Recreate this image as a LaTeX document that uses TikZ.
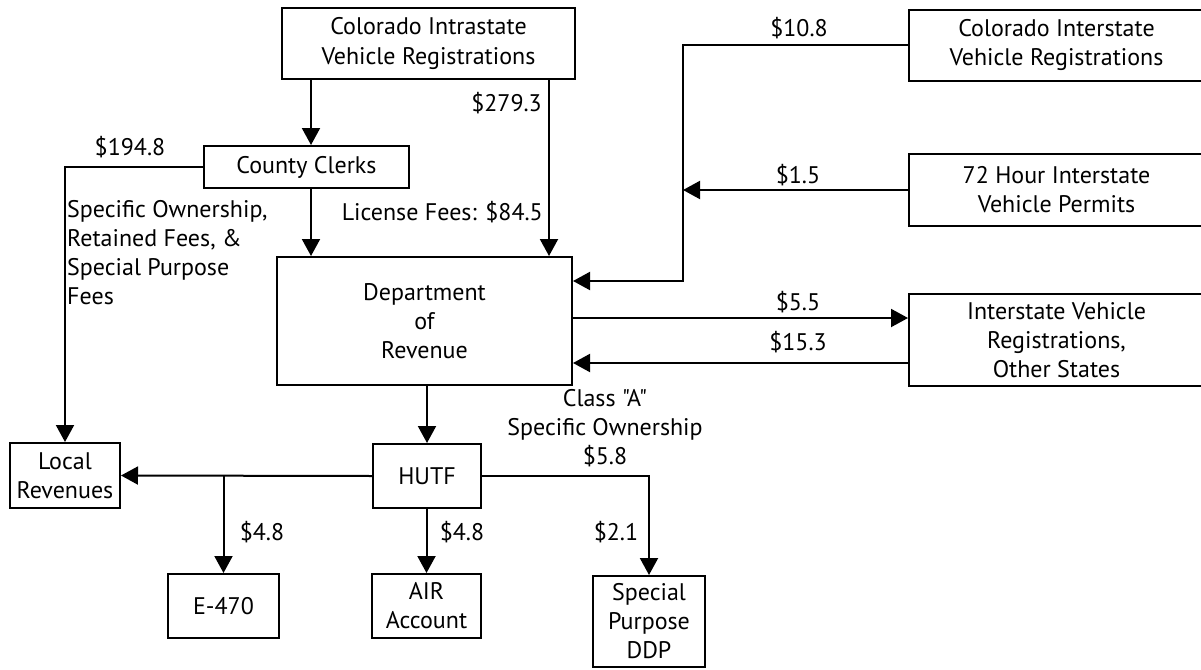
\documentclass[tikz,border=0pt]{standalone}
\usepackage{fontspec}
\newfontfamily\dfont{PT Sans}
\usetikzlibrary{arrows.meta}
\begin{document}
\begin{tikzpicture}[x=1pt,y=-1pt,
  every node/.style={font=\dfont\fontsize{24}{29}\selectfont},
  box/.style={draw,line width=2pt,inner sep=0pt,align=center},
  arr/.style={line width=2pt,-{Triangle[length=17pt,width=18pt]}},
  lbl/.style={inner sep=0pt}]
\useasboundingbox (0,0) rectangle (1201,669);
% boxes
\node[box,minimum width=293pt,minimum height=71pt] (intra) at (428.5,43.5) {Colorado Intrastate\\Vehicle Registrations};
\node[box,minimum width=295pt,minimum height=71pt] (inter) at (1056.5,45.5) {Colorado Interstate\\Vehicle Registrations};
\node[box,minimum width=295pt,minimum height=72pt] (h72) at (1056.5,190) {72 Hour Interstate\\Vehicle Permits};
\node[box,minimum width=295pt,minimum height=92pt] (other) at (1056.5,340) {Interstate Vehicle\\Registrations,\\Other States};
\node[box,minimum width=205pt,minimum height=42pt] (clerks) at (306.5,167) {County Clerks};
\node[box,minimum width=295pt,minimum height=128pt] (dor) at (424.5,321) {Department\\of\\Revenue};
\node[box,minimum width=108pt,minimum height=64pt] (hutf) at (427,476) {HUTF};
\node[box,minimum width=110pt,minimum height=65pt] (local) at (65,475.5) {Local\\Revenues};
\node[box,minimum width=111pt,minimum height=64pt] (e470) at (223.5,606) {E-470};
\node[box,minimum width=109pt,minimum height=64pt] (air) at (426.5,606) {AIR\\Account};
\node[box,minimum width=112pt,minimum height=91pt] (spec) at (649,621.5) {Special\\Purpose\\DDP};
% helper coordinates
\coordinate (xl) at (311,0);
\coordinate (xr) at (549,0);
\coordinate (jv) at (683,281);
\coordinate (ya) at (0,318);
\coordinate (yb) at (0,363);
% connectors
\draw[arr] (intra.south -| xl) -- (clerks.north -| xl);
\draw[arr] (intra.south -| xr) -- (dor.north -| xr);
\draw[arr] (clerks.south -| xl) -- (dor.north -| xl);
\draw[arr] (clerks.west) -| (local.north);
\draw[arr] (inter.west) -| (jv) -- (jv -| dor.east);
\draw[arr] (h72.west) -- (h72.west -| jv);
\draw[arr] (dor.east |- ya) -- (other.west |- ya);
\draw[arr] (other.west |- yb) -- (dor.east |- yb);
\draw[arr] (hutf.north |- dor.south) -- (hutf.north);
\draw[arr] (hutf.west) -- (local.east);
\draw[arr] (hutf.west -| e470.north) -- (e470.north);
\draw[arr] (hutf.south -| air.north) -- (air.north);
\draw[arr] (hutf.east) -| (spec.north);
% labels
\node[lbl] (l108) at (799,28) {\$10.8};
\node[lbl] (l15) at (798,175) {\$1.5};
\node[lbl] (l55) at (798,302) {\$5.5};
\node[lbl] (l153) at (798,342) {\$15.3};
\node[lbl,anchor=east] (l279) at (542,103) {\$279.3};
\node[lbl,anchor=east] (llic) at (543,212) {License Fees: \$84.5};
\node[lbl] (l194) at (130,147) {\$194.8};
\node[lbl,anchor=west,align=left] (lspec) at (67,252.5) {Specific Ownership,\\Retained Fees, \&\\Special Purpose\\Fees};
\node[lbl,align=center] (lclass) at (605,428.5) {Class "A"\\Specific Ownership\\\$5.8};
\node[lbl] (le) at (262,532) {\$4.8};
\node[lbl] (la) at (462,532) {\$4.8};
\node[lbl] (l21) at (616,532) {\$2.1};
\end{tikzpicture}
\end{document}
